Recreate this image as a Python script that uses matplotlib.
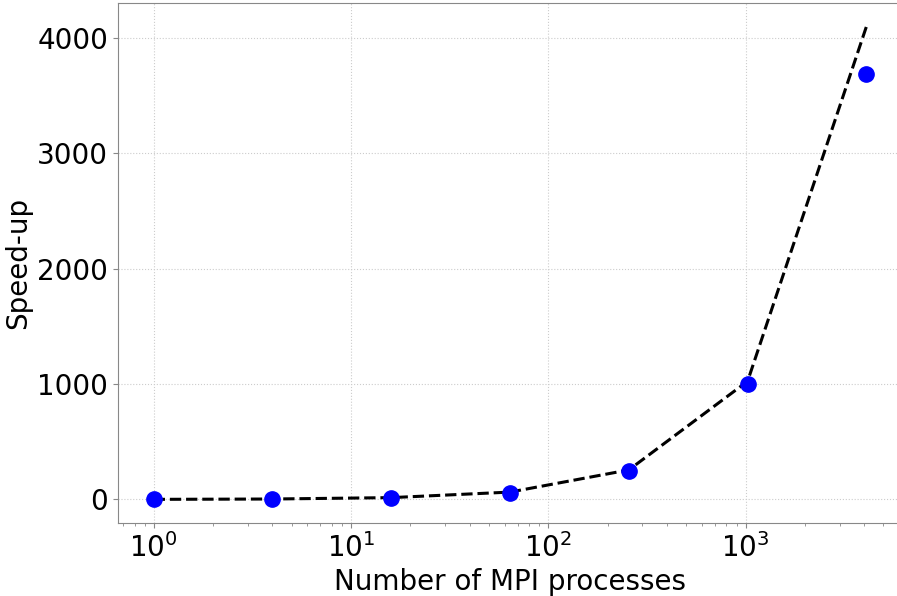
import matplotlib
matplotlib.use('Agg')
import matplotlib.pyplot as plt

# MPI process counts and measured speed-up
procs = [1, 4, 16, 64, 256, 1024, 4096]
ideal = [1, 4, 16, 64, 256, 1024, 4096]
speedup = [1, 3.9, 15, 60, 248, 1000, 3685]

fig = plt.figure(figsize=(8.97, 5.96), dpi=100)
ax = fig.add_axes([0.1316, 0.1225, 0.874, 0.8725])

ax.plot(procs, ideal, color='black', linestyle='--', linewidth=2.2, zorder=2)
ax.plot(procs, speedup, 'o', color='blue', markersize=11, zorder=3)

ax.set_xscale('log')
ax.set_xlabel('Number of MPI processes', fontsize=20)
ax.set_ylabel('Speed-up', fontsize=20)
ax.tick_params(labelsize=20, color='#888888')
ax.tick_params(which='minor', color='#888888')
ax.set_yticks([0, 1000, 2000, 3000, 4000])
ax.grid(True, linestyle=':', color='#cccccc', linewidth=0.8, zorder=0)
for s in ax.spines.values():
    s.set_color('#888888')

fig.savefig('out.png', dpi=100)
